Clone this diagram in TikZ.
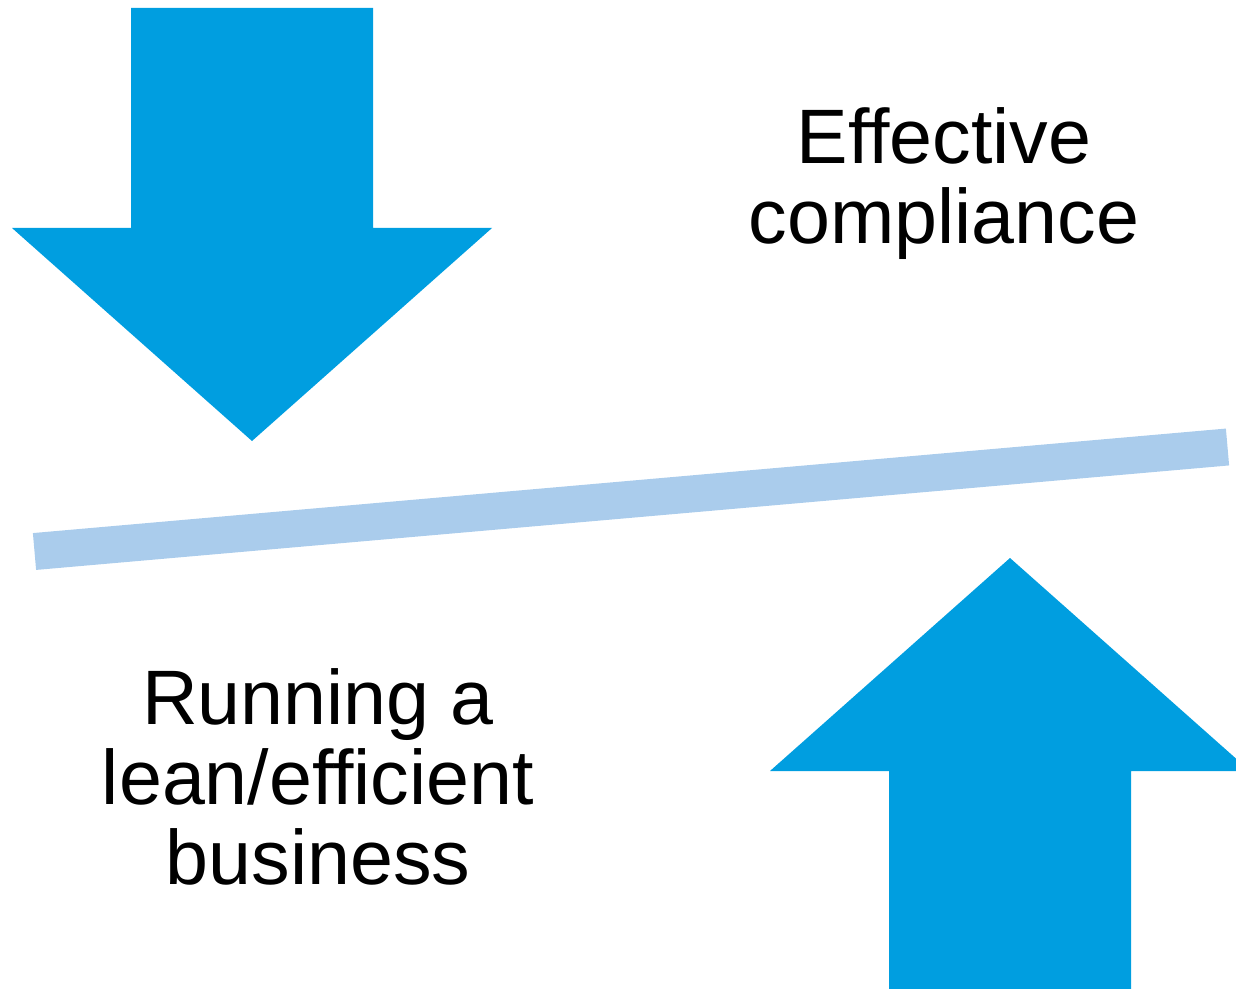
\documentclass[tikz,border=0pt]{standalone}
\usepackage{fontspec}
\setmainfont{Liberation Sans}
\usepackage{tikz}
\usetikzlibrary{positioning}
\definecolor{arrowblue}{RGB}{0, 158, 224}
\definecolor{beamblue}{RGB}{170, 204, 236}

\begin{document}
\begin{tikzpicture}[
  x=0.5pt, y=-0.5pt,
  bigarrow/.style={fill=arrowblue, draw=none},
  beam/.style={draw=beamblue, line width=18.5pt, line cap=butt},
  caption/.style={align=center, inner sep=0pt, font=\fontsize{38.6pt}{40pt}\selectfont}
]
\useasboundingbox (0,0) rectangle (1236,989);
\clip (0,0) rectangle (1236,989);

% pressure from above
\fill[bigarrow] (131,8) -- (373,8) -- (373,228) -- (492,228) -- (252,441)
  -- (12,228) -- (131,228) -- cycle;

% pressure from below
\fill[bigarrow] (889,989) -- (1131,989) -- (1131,771) -- (1250,771) -- (1010,558)
  -- (770,771) -- (889,771) -- cycle;

% tilted balance
\coordinate (beamL) at (34.5,551.5);
\coordinate (beamR) at (1227.5,447);
\draw[beam] (beamL) -- (beamR);

% Labels
\node[caption] (compliance) at (944,184) {Effective\\compliance};
\node[caption] (business) at (318,777) {Running a\\lean/efficient\\business};

\end{tikzpicture}
\end{document}
